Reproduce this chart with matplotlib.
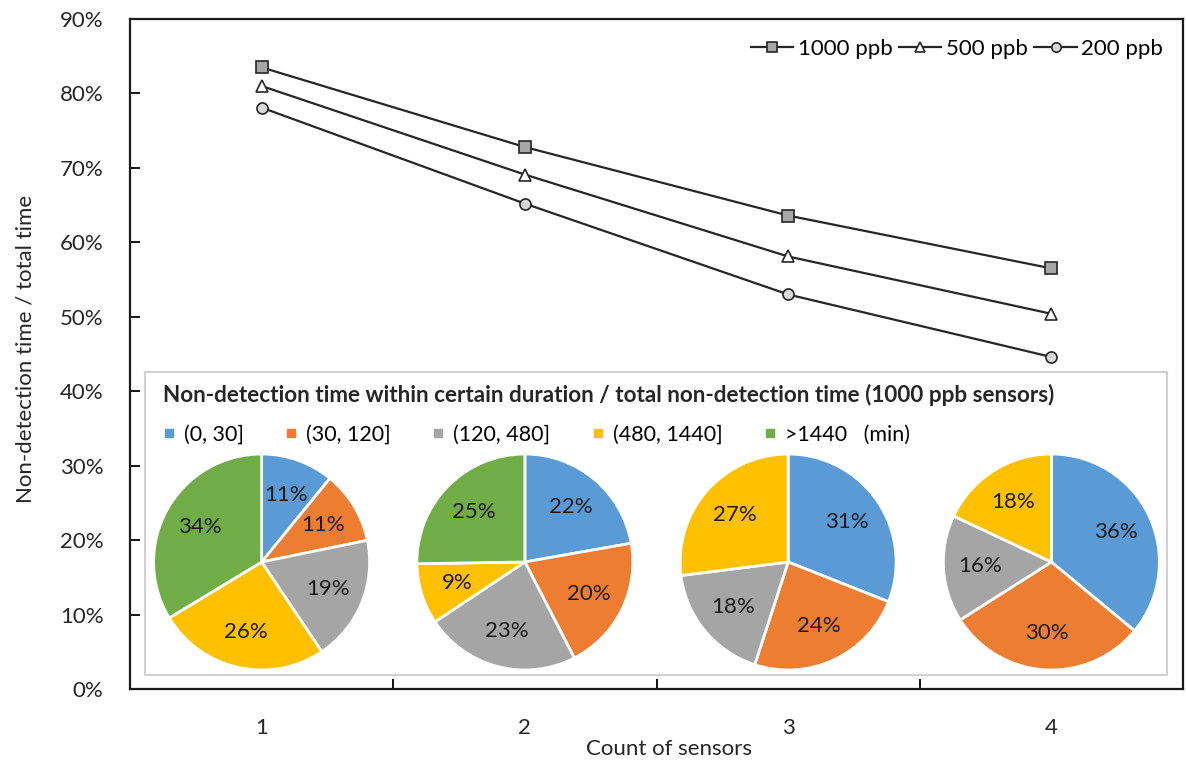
import matplotlib
matplotlib.use("Agg")
import matplotlib.pyplot as plt
from matplotlib.lines import Line2D

# --- data ---------------------------------------------------------------
sensor_counts = [1, 2, 3, 4]
series_names = ["1000 ppb", "500 ppb", "200 ppb"]
ratio_1000 = [83.5, 72.8, 63.6, 56.5]
ratio_500 = [81.0, 69.1, 58.1, 50.4]
ratio_200 = [78.1, 65.2, 53.0, 44.6]

duration_bins = ["(0, 30]", "(30, 120]", "(120, 480]", "(480, 1440]", ">1440"]
pie_shares = [
    [11, 11, 19, 26, 34],
    [22, 20, 23, 9, 25],
    [31, 24, 18, 27, 0],
    [36, 30, 16, 18, 0],
]
pie_colors = ["#5B9BD5", "#ED7D31", "#A5A5A5", "#FFC000", "#70AD47"]

W, H = 1186, 764
plt.rcParams["font.family"] = ["Lato", "DejaVu Sans"]
fig = plt.figure(figsize=(W / 100, H / 100), dpi=100)


def px_box(x0, y0, x1, y1):
    return [x0 / W, 1 - y1 / H, (x1 - x0) / W, (y1 - y0) / H]


ax = fig.add_axes(px_box(130, 19, 1183, 689))
line_col = "#262626"
text_col = "#262626"
styles = [
    dict(marker="s", markerfacecolor="#A6A6A6"),
    dict(marker="^", markerfacecolor="white"),
    dict(marker="o", markerfacecolor="#D9D9D9"),
]
for vals, name, st in zip([ratio_1000, ratio_500, ratio_200], series_names, styles):
    ax.plot(sensor_counts, vals, color=line_col, lw=1.6, markersize=8,
            markeredgecolor=line_col, markeredgewidth=1.2, label=name, **st)

ax.set_xlim(0.5, 4.5)
ax.set_ylim(0, 90)
ax.set_yticks(range(0, 91, 10))
ax.set_yticklabels([f"{v}%" for v in range(0, 91, 10)], fontsize=16, color=text_col)
ax.set_xticks([1.5, 2.5, 3.5])
ax.set_xticklabels([])
ax.set_xticks(sensor_counts, minor=True)
ax.set_xticklabels([str(c) for c in sensor_counts], minor=True, fontsize=16, color=text_col)
ax.tick_params(axis="x", which="major", direction="in", length=7, width=1.3)
ax.tick_params(axis="x", which="minor", length=0, pad=21)
ax.tick_params(axis="y", direction="in", length=7, width=1.3, pad=19)
for s in ax.spines.values():
    s.set_linewidth(1.6)
    s.set_color("#1a1a1a")
ax.set_xlabel("Count of sensors", fontsize=16, color=text_col)
ax.xaxis.set_label_coords((669 - 130) / 1053, -(749 - 689) / 670)
ax.xaxis.label.set_va("center")
ax.set_ylabel("Non-detection time / total time", fontsize=16, color=text_col)
ax.yaxis.set_label_coords(-(130 - 26) / 1053, (689 - 349) / 670)
ax.yaxis.label.set_va("center")

ax.legend(loc="upper right", ncol=3, frameon=False, fontsize=16, handlelength=1.9,
          handletextpad=0.2, columnspacing=0.3, borderaxespad=0.5, markerscale=0.85)

# --- inset box with pies --------------------------------------------------
box = fig.add_axes(px_box(145, 372, 1167, 675))
box.set_xticks([])
box.set_yticks([])
box.patch.set_facecolor("white")
for s in box.spines.values():
    s.set_color("#D0D0D0")
    s.set_linewidth(1.5)

box.text(0.018, 0.925, "Non-detection time within certain duration / total non-detection time (1000 ppb sensors)",
         transform=box.transAxes, fontsize=16.2, fontweight="bold",
         color=text_col, va="center", ha="left")
handles = [Line2D([], [], ls="none", marker="s", markersize=6, color=c) for c in pie_colors]
labels = duration_bins[:-1] + [duration_bins[-1] + "   (min)"]
box.legend(handles, labels, loc="upper left", bbox_to_anchor=(0.002, 0.875), ncol=5,
           frameon=False, fontsize=15.5, handlelength=0.6,
           handletextpad=0.4, columnspacing=1.9, borderaxespad=0.3)

fig.canvas.draw()
radius_px = 108
cy = 562
for count, shares in zip(sensor_counts, pie_shares):
    cx = ax.transData.transform((count, 0))[0]
    pax = fig.add_axes(px_box(cx - radius_px, cy - radius_px, cx + radius_px, cy + radius_px))
    vals = [v for v in shares if v > 0]
    cols = [c for v, c in zip(shares, pie_colors) if v > 0]
    wedges, texts = pax.pie(vals, colors=cols, startangle=90, counterclock=False,
                            labels=[f"{v}%" for v in vals], labeldistance=0.66,
                            wedgeprops=dict(edgecolor="white", linewidth=2))
    for t in texts:
        t.set_ha("center")
        t.set_va("center")
        t.set_fontsize(16)
        t.set_color("#1a1a1a")
    pax.set_aspect("equal")
    pax.set_xlim(-1, 1)
    pax.set_ylim(-1, 1)

fig.savefig("out.png", dpi=100)
